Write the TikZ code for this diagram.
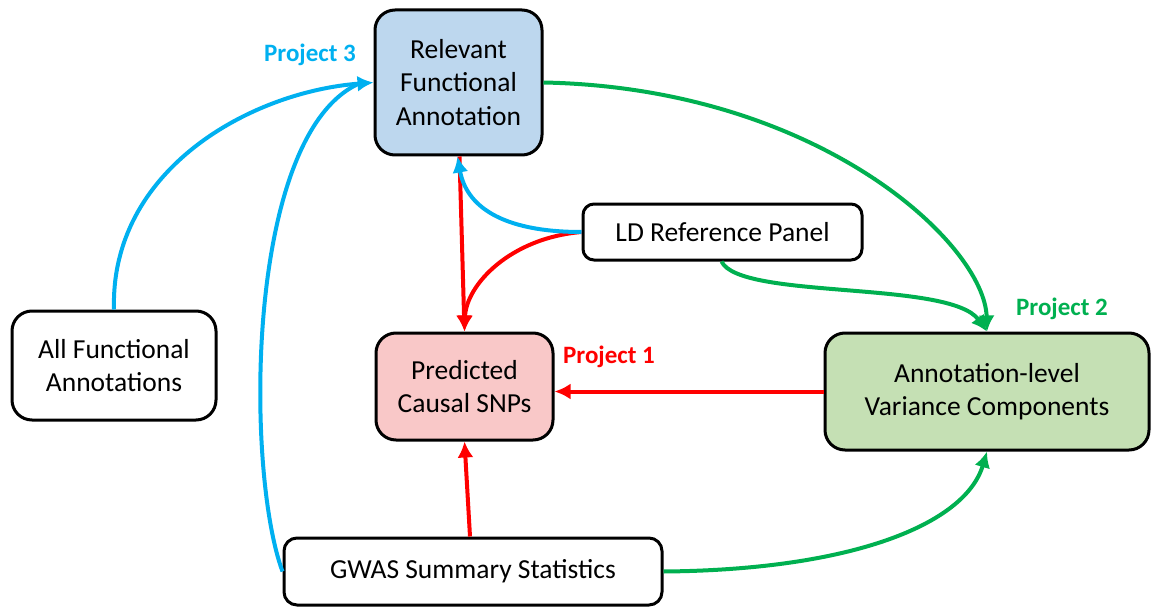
\documentclass[tikz,border=0pt]{standalone}
\usepackage{fontspec}
\setmainfont{Carlito}
\usetikzlibrary{arrows.meta}
\definecolor{pblue}{HTML}{00B0F0}
\definecolor{pgreen}{HTML}{00B050}
\definecolor{pred}{HTML}{FF0000}
\definecolor{fblue}{HTML}{BDD7EE}
\definecolor{fred}{HTML}{F9C8C8}
\definecolor{fgreen}{HTML}{C5E0B4}
\tikzset{
  box/.style={draw=black, line width=3pt, rounded corners=20pt, align=center,
    inner sep=0pt, font=\fontsize{27.5}{33.5}\selectfont},
  conn/.style={line width=4pt, -{Latex[length=16pt,width=16pt]}},
  plain/.style={line width=4pt},
  lbl/.style={font=\fontsize{25}{30}\selectfont\bfseries},
}
\begin{document}
\begin{tikzpicture}[x=1pt,y=-1pt]
\useasboundingbox (0,0) rectangle (1151,607);
\node[box, fill=fblue, minimum width=167pt, minimum height=145pt] (rfa) at (458.5,82.5) {Relevant\\Functional\\Annotation};
\node[box, rounded corners=11pt, minimum width=279pt, minimum height=56pt] (ld) at (722.5,232) {LD Reference Panel};
\node[box, minimum width=204pt, minimum height=109pt] (afa) at (114,365.5) {All Functional\\Annotations};
\node[box, fill=fred, minimum width=177pt, minimum height=107pt] (pcs) at (464.5,386.5) {Predicted\\Causal SNPs};
\node[box, fill=fgreen, minimum width=324pt, minimum height=117pt] (avc) at (987,391.5) {Annotation-level\\Variance Components};
\node[box, rounded corners=13pt, minimum width=378pt, minimum height=67pt] (gwas) at (473,571.5) {GWAS Summary Statistics};

\node[lbl, text=pblue] (p3) at (310,55) {Project 3};
\node[lbl, text=pgreen] (p2) at (1062,309) {Project 2};
\node[lbl, text=pred] (p1) at (609,357) {Project 1};

% red
\draw[pred, conn] ([xshift=1pt]rfa.south) -- (pcs.north);
\draw[pred, conn] (ld.west) .. controls (510,238) and (466,285) .. (pcs.north);
\draw[pred, conn] (avc.west) -- (pcs.east |- avc.west);
\draw[pred, conn] ([xshift=-3pt]gwas.north) -- (pcs.south);
% blue
\coordinate (rfaL) at (rfa.west);
\draw[pblue, conn] (afa.north) .. controls (110,170) and (250,92) .. (rfaL);
\draw[pblue, plain] (gwas.west) .. controls (245,470) and (245,130) .. ([xshift=-12pt]rfaL);
\draw[pblue, conn] (ld.west) .. controls (500,232) and (466,205) .. ([xshift=-1pt]rfa.south);
% green
\draw[pgreen, conn] (rfa.east) .. controls (820,88) and (985,245) .. (avc.north);
\draw[pgreen, conn] ([xshift=-1pt]ld.south) .. controls (740,300) and (950,280) .. (avc.north);
\draw[pgreen, conn] (gwas.east) .. controls (850,570) and (965,525) .. (avc.south);
\end{tikzpicture}
\end{document}
